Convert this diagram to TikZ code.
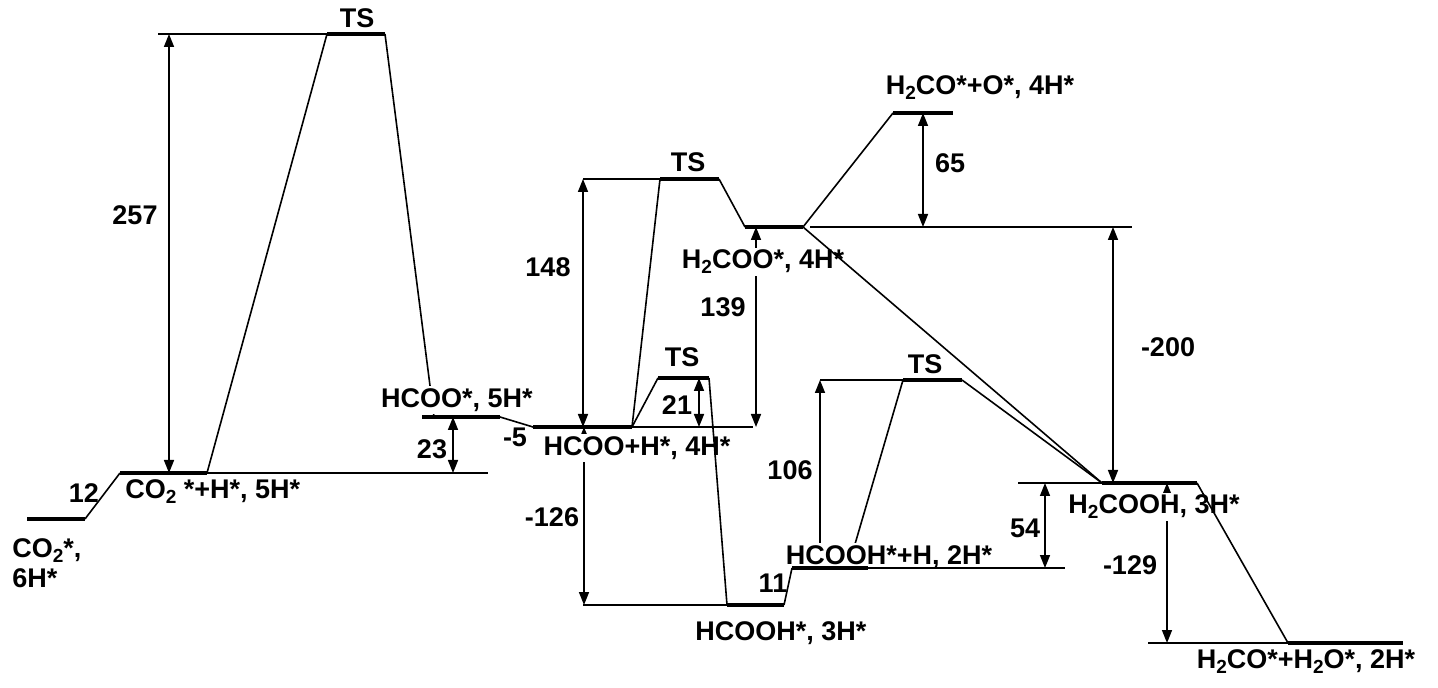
\documentclass[tikz,border=0pt]{standalone}
\usepackage{fontspec}
\setmainfont{Liberation Sans}
\usetikzlibrary{arrows.meta}
\newcommand\dn[1]{\raisebox{-0.35ex}{\fontsize{9.5}{9.5}\selectfont #1}}
\begin{document}
\begin{tikzpicture}[x=0.5pt,y=-0.5pt,
  bar/.style={line width=2pt},
  thin/.style={line width=0.8pt},
  dim/.style={line width=0.8pt,{Triangle[length=6.5pt,width=5pt]}-{Triangle[length=6.5pt,width=5pt]}},
  uparr/.style={line width=0.8pt,-{Triangle[length=6.5pt,width=5pt]}},
  txt/.style={font=\fontsize{13.5}{15}\selectfont\bfseries, inner sep=1pt},
  lev/.style={txt, fill=white}]
\useasboundingbox (0,0) rectangle (1438,688);
% level end points
\coordinate (a1) at (27,519);  \coordinate (a2) at (85,519);
\coordinate (b1) at (120,473); \coordinate (b2) at (207,473); \coordinate (bx) at (488,473);
\coordinate (t1a) at (327,34); \coordinate (t1b) at (385,34); \coordinate (t1x) at (158,34);
\coordinate (c1) at (422,417); \coordinate (c2) at (500,417); \coordinate (cin) at (434,417);
\coordinate (d1) at (533,427); \coordinate (d2) at (632,427); \coordinate (dx) at (753,427);
\coordinate (t2a) at (660,179); \coordinate (t2b) at (719,179); \coordinate (t2x) at (583,179);
\coordinate (e1) at (745,227); \coordinate (e2) at (803,227); \coordinate (ex0) at (810,227); \coordinate (ex) at (1132,227);
\coordinate (f1) at (893,113); \coordinate (f2) at (953,113);
\coordinate (t3a) at (658,378); \coordinate (t3b) at (709,378);
\coordinate (g1) at (727,605); \coordinate (g2) at (784,605); \coordinate (gx) at (583,605);
\coordinate (h1) at (792,568); \coordinate (h2) at (868,568); \coordinate (hx) at (1065,568); \coordinate (hin) at (848,568);
\coordinate (t4a) at (903,380); \coordinate (t4b) at (962,380); \coordinate (t4x) at (820,380);
\coordinate (i1) at (1102,483); \coordinate (i2) at (1197,483); \coordinate (ix) at (1018,483);
\coordinate (j1) at (1288,643); \coordinate (j2) at (1403,643); \coordinate (jx) at (1148,643);

% dimension arrows
\draw[dim] (169,34) -- (169,473);
\draw[dim] (453,417) -- (453,473);
\draw[dim] (583,179) -- (583,427);
\draw[dim] (756,227) -- (756,427);
\draw[dim] (699,378) -- (699,427);
\draw[dim] (584,427) -- (584,605);
\draw[uparr] (820,568) -- (820,380);
\draw[dim] (923,113) -- (923,227);
\draw[dim] (1113,227) -- (1113,483);
\draw[dim] (1045,483) -- (1045,568);
\draw[dim] (1167,483) -- (1167,643);

% connectors that end at labels
\draw[thin] (t1b) -- (cin);
\draw[thin] (hin) -- (t4a);

% labels
\node[txt] (ts1) at (357,18) {TS};
\node[txt] (n257) at (135,215) {257};
\node[txt] (n12) at (84,493) {12};
\node[lev, anchor=west] (lb) at (123,492) {CO\dn{2} *+H*, 5H*};
\node[lev, anchor=north west, align=left] (la) at (10,536) {CO\dn{2}*,\\6H*};
\node[lev] (lc) at (457,400) {HCOO*, 5H*};
\node[txt] (n23) at (432,449) {23};
\node[txt] (n5) at (515,437) {-5};
\node[lev] (ld) at (637,448) {HCOO+H*, 4H*};
\node[txt] (n148) at (548,267) {148};
\node[txt] (ts2) at (688,162) {TS};
\node[lev] (le) at (763,262) {H\dn{2}COO*, 4H*};
\node[txt] (n139) at (723,307) {139};
\node[txt] (ts3) at (682,357) {TS};
\node[txt] (n21) at (677,405) {21};
\node[txt] (n126) at (552,517) {-126};
\node[lev] (lg) at (781,633) {HCOOH*, 3H*};
\node[txt] (n11) at (773,583) {11};
\node[lev] (lh) at (889,557) {HCOOH*+H, 2H*};
\node[txt] (n106) at (790,470) {106};
\node[txt] (ts4) at (925,364) {TS};
\node[txt] (n54) at (1025,528) {54};
\node[lev] (li) at (1154,507) {H\dn{2}COOH, 3H*};
\node[txt] (n129) at (1130,565) {-129};
\node[lev] (lj) at (1306,662) {H\dn{2}CO*+H\dn{2}O*, 2H*};
\node[txt] (n200) at (1168,347) {-200};
\node[txt] (n65) at (950,163) {65};
\node[lev] (lf) at (980,88) {H\dn{2}CO*+O*, 4H*};

% reference lines
\draw[thin] (b2) -- (bx);
\draw[thin] (t1x) -- (t1a);
\draw[thin] (d2) -- (dx);
\draw[thin] (t2x) -- (t2a);
\draw[thin] (ex0) -- (ex);
\draw[thin] (gx) -- (g1);
\draw[thin] (h2) -- (hx);
\draw[thin] (t4x) -- (t4a);
\draw[thin] (ix) -- (i1);
\draw[thin] (jx) -- (j1);

% connectors
\draw[thin] (a2) -- (b1);
\draw[thin] (b2) -- (t1a);
\draw[thin] (c2) -- (d1);
\draw[thin] (d2) -- (t2a);
\draw[thin] (d2) -- (t3a);
\draw[thin] (t2b) -- (e1);
\draw[thin] (t3b) -- (g1);
\draw[thin] (g2) -- (h1);
\draw[thin] (t4b) -- (i1);
\draw[thin] (e2) -- (i1);
\draw[thin] (e2) -- (f1);
\draw[thin] (i2) -- (j1);

% levels
\draw[bar] (a1) -- (a2);
\draw[bar] (b1) -- (b2);
\draw[bar] (t1a) -- (t1b);
\draw[bar] (c1) -- (c2);
\draw[bar] (d1) -- (d2);
\draw[bar] (t2a) -- (t2b);
\draw[bar] (e1) -- (e2);
\draw[bar] (f1) -- (f2);
\draw[bar] (t3a) -- (t3b);
\draw[bar] (g1) -- (g2);
\draw[bar] (h1) -- (h2);
\draw[bar] (t4a) -- (t4b);
\draw[bar] (i1) -- (i2);
\draw[bar] (j1) -- (j2);
\end{tikzpicture}
\end{document}
